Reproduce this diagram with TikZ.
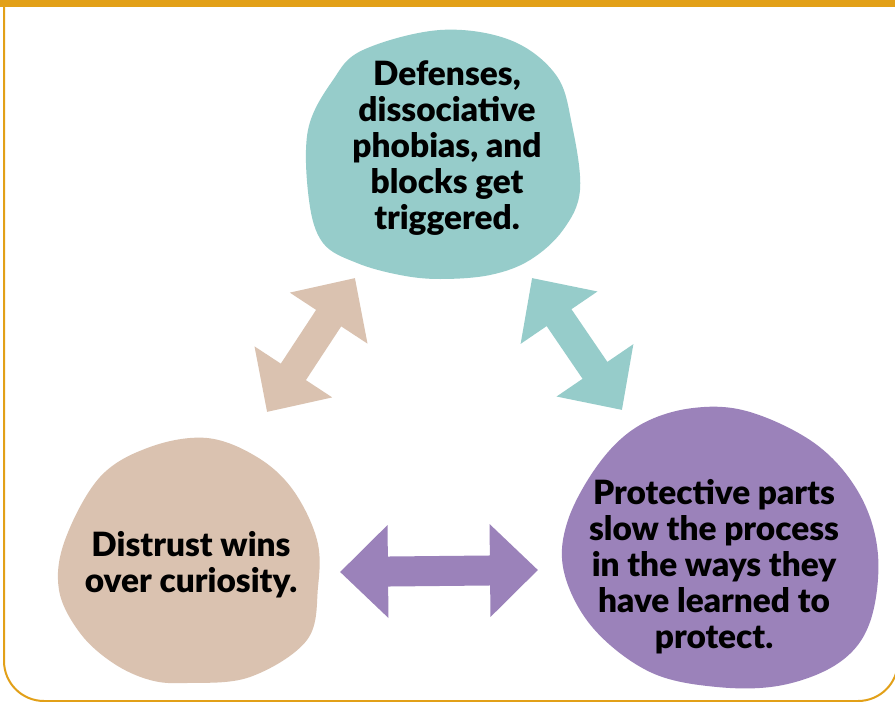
\documentclass[tikz,border=0pt]{standalone}
\usepackage{fontspec}
\setmainfont{Lato}[BoldFont={Lato Black}]
\usepackage{tikz}
\usetikzlibrary{arrows.meta,positioning}
\definecolor{frameorange}{HTML}{E2A018}
\definecolor{tealblob}{HTML}{96CCCA}
\definecolor{tanblob}{HTML}{DAC2B0}
\definecolor{purpleblob}{HTML}{9B82BA}

\begin{document}
\begin{tikzpicture}[x=0.03cm,y=-0.03cm,
  blobtext/.style={font=\bfseries\fontsize{28.5}{30.8}\selectfont,align=center,inner sep=0pt},
  blob/.style={smooth cycle,tension=0.6},
  bigarrow/.style={line width=0.9cm,{Triangle[length=1.44cm,width=2.7cm]}-{Triangle[length=1.44cm,width=2.7cm]}}]
  \useasboundingbox (0,0) rectangle (895,702);
  \clip (0,0) rectangle (895,702);
  \fill[white] (0,0) rectangle (895,702);
  \draw[frameorange,line width=0.06cm,rounded corners=1.2cm] (4,-60) rectangle (898,701);
  \fill[frameorange] (0,0) rectangle (895,7);

  \fill[tealblob] plot[blob] coordinates {(440,30) (510,40) (556,75) (572,125) (580,190) (563,230) (530,260) (490,275) (440,279) (400,275) (357,263) (323,243) (309,200) (308,130) (333,80) (363,50)};
  \fill[tanblob] plot[blob] coordinates {(207,438) (257,457) (293,490) (317,540) (318,587) (307,640) (250,677) (187,683) (150,680) (113,663) (80,633) (59,590) (65,540) (100,477) (150,447)};
  \fill[purpleblob] plot[blob] coordinates {(693,408) (750,412) (817,445) (860,495) (878,555) (870,622) (840,662) (783,685) (717,687) (650,672) (593,628) (564,572) (568,520) (600,462) (640,425)};

  \node[blobtext] (defenses) at (447,148) {Defenses,\\dissociative\\phobias, and\\blocks get\\triggered.};
  \node[blobtext] (distrust) at (191,565) {Distrust wins\\over curiosity.};
  \node[blobtext] (protective) at (714,567) {Protective parts\\slow the process\\in the ways they\\have learned to\\protect.};

  \coordinate (tantop) at (355,278);
  \coordinate (tanlow) at (267,412);
  \coordinate (tealtop) at (532,278);
  \coordinate (teallow) at (622,410);
  \coordinate (purpleleft) at (340,572);
  \coordinate (purpleright) at (538,570);

  \draw[bigarrow,tanblob] (tanlow) -- (tantop);
  \draw[bigarrow,tealblob] (tealtop) -- (teallow);
  \draw[bigarrow,purpleblob] (purpleleft) -- (purpleright);
\end{tikzpicture}
\end{document}
